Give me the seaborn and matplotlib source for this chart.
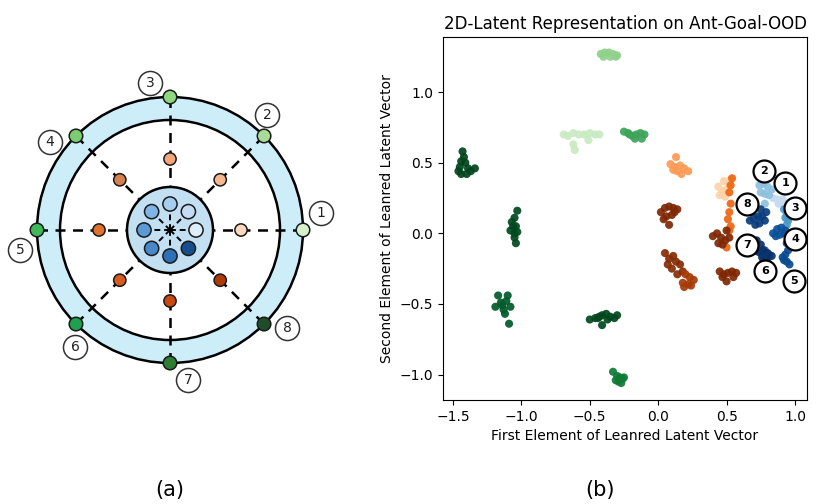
import numpy as np
import pandas as pd
import matplotlib
matplotlib.use("Agg")
import matplotlib.pyplot as plt
from matplotlib.patches import Circle
import seaborn as sns

plt.rcParams['font.family'] = ['DejaVu Sans']

# ---------------- Panel (b): latent clusters ----------------
TITLE = "2D-Latent Representation on Ant-Goal-OOD"
XLABEL = "First Element of Leanred Latent Vector"
YLABEL = "Second Element of Leanred Latent Vector"
XTICKS = [-1.5, -1.0, -0.5, 0.0, 0.5, 1.0]
YTICKS = [-1.0, -0.5, 0.0, 0.5, 1.0]

# green clusters (outer-ring goals)
g1_x = [-1.43, -1.42, -1.44, -1.41, -1.39, -1.37, -1.34, -1.46, -1.44, -1.40, -1.45]
g1_y = [0.58, 0.54, 0.51, 0.50, 0.46, 0.44, 0.46, 0.44, 0.42, 0.42, 0.47]
g2_x = [-1.03, -1.05, -1.07, -1.06, -1.04, -1.08, -1.05, -1.03, -1.05, -1.04]
g2_y = [0.16, 0.11, 0.08, 0.05, 0.05, 0.02, 0.00, 0.01, -0.03, -0.07]
g3_x = [-1.17, -1.10, -1.19, -1.14, -1.08, -1.12, -1.09, -1.13, -1.15, -1.11]
g3_y = [-0.44, -0.44, -0.52, -0.51, -0.52, -0.57, -0.64, -0.54, -0.49, -0.48]
g4_x = [-0.50, -0.46, -0.43, -0.41, -0.38, -0.35, -0.32, -0.30, -0.41, -0.37, -0.44]
g4_y = [-0.61, -0.60, -0.59, -0.58, -0.57, -0.59, -0.60, -0.58, -0.65, -0.61, -0.60]
g5_x = [-0.33, -0.30, -0.28, -0.26, -0.29, -0.31, -0.27, -0.25]
g5_y = [-0.98, -1.01, -1.02, -1.03, -1.05, -1.04, -1.06, -1.02]
g6_x = [-0.42, -0.39, -0.36, -0.33, -0.30, -0.40, -0.35, -0.31]
g6_y = [1.27, 1.28, 1.28, 1.27, 1.26, 1.25, 1.25, 1.25]
g7_x = [-0.69, -0.66, -0.62, -0.58, -0.54, -0.50, -0.46, -0.43, -0.62, -0.61, -0.51]
g7_y = [0.70, 0.69, 0.71, 0.70, 0.70, 0.71, 0.70, 0.70, 0.63, 0.59, 0.66]
g8_x = [-0.25, -0.22, -0.19, -0.16, -0.13, -0.10, -0.12, -0.17, -0.21]
g8_y = [0.72, 0.71, 0.69, 0.70, 0.71, 0.70, 0.67, 0.67, 0.70]

# orange clusters (middle-ring goals)
o1_x = [0.13, 0.09, 0.12, 0.16, 0.19, 0.22, 0.14, 0.17, 0.11]
o1_y = [0.54, 0.49, 0.47, 0.48, 0.46, 0.44, 0.44, 0.42, 0.45]
o2_x = [0.44, 0.47, 0.50, 0.45, 0.49, 0.52, 0.48, 0.53]
o2_y = [0.33, 0.30, 0.31, 0.27, 0.26, 0.35, 0.37, 0.38]
o3_x = [0.54, 0.53, 0.52, 0.53, 0.52, 0.51, 0.53, 0.52, 0.50]
o3_y = [0.39, 0.34, 0.29, 0.21, 0.15, 0.10, 0.05, 0.02, -0.10]
o4_x = [0.02, 0.05, 0.08, 0.11, 0.14, 0.06, 0.10, 0.04, 0.08, 0.12]
o4_y = [0.15, 0.18, 0.19, 0.18, 0.17, 0.12, 0.13, 0.10, 0.06, 0.15]
o5_x = [0.40, 0.43, 0.46, 0.49, 0.52, 0.44, 0.47, 0.50]
o5_y = [-0.02, 0.00, -0.03, -0.05, -0.03, -0.07, -0.08, 0.02]
o6_x = [0.05, 0.08, 0.11, 0.07, 0.13, 0.16, 0.10, 0.18, 0.14]
o6_y = [-0.14, -0.18, -0.16, -0.22, -0.20, -0.22, -0.25, -0.27, -0.29]
o7_x = [0.20, 0.23, 0.26, 0.18, 0.22, 0.19, 0.24]
o7_y = [-0.29, -0.31, -0.33, -0.35, -0.36, -0.38, -0.37]
o8_x = [0.45, 0.48, 0.51, 0.54, 0.57, 0.47, 0.50, 0.55]
o8_y = [-0.27, -0.29, -0.28, -0.27, -0.28, -0.31, -0.34, -0.31]

# blue clusters (inner goals), numbered 1..8
b1_x = [0.84, 0.87, 0.90, 0.93, 0.88, 0.91]
b1_y = [0.25, 0.24, 0.22, 0.21, 0.21, 0.24]
b2_x = [0.74, 0.77, 0.80, 0.83, 0.75, 0.78, 0.81, 0.78]
b2_y = [0.34, 0.35, 0.33, 0.31, 0.29, 0.28, 0.27, 0.21]
b3_x = [0.92, 0.94, 0.93, 0.95, 0.94, 0.96]
b3_y = [0.17, 0.14, 0.11, 0.09, 0.06, 0.12]
b4_x = [0.84, 0.87, 0.90, 0.93, 0.86, 0.89, 0.92]
b4_y = [0.00, 0.03, 0.04, 0.02, -0.02, -0.01, 0.00]
b5_x = [0.94, 0.95, 0.93, 0.91, 0.94, 0.96, 0.92]
b5_y = [-0.07, -0.12, -0.15, -0.17, -0.20, -0.22, -0.19]
b6_x = [0.75, 0.78, 0.81, 0.77, 0.80]
b6_y = [-0.14, -0.12, -0.15, -0.19, -0.18]
b7_x = [0.72, 0.75, 0.70, 0.73, 0.77, 0.80, 0.83, 0.76, 0.79]
b7_y = [-0.05, -0.08, -0.11, -0.13, -0.12, -0.14, -0.16, -0.17, -0.19]
b8_x = [0.67, 0.70, 0.73, 0.76, 0.79, 0.71, 0.74, 0.78, 0.75]
b8_y = [0.09, 0.11, 0.12, 0.12, 0.15, 0.06, 0.07, 0.09, 0.17]

clusters = {
    "g1": (g1_x, g1_y, "#00441b"), "g2": (g2_x, g2_y, "#00491f"),
    "g3": (g3_x, g3_y, "#005a2a"), "g4": (g4_x, g4_y, "#00471d"),
    "g5": (g5_x, g5_y, "#0f7a36"), "g6": (g6_x, g6_y, "#8fd18b"),
    "g7": (g7_x, g7_y, "#c8eac1"), "g8": (g8_x, g8_y, "#3ea45a"),
    "o1": (o1_x, o1_y, "#fd9a55"), "o2": (o2_x, o2_y, "#fdd2a7"),
    "o3": (o3_x, o3_y, "#ee6512"), "o4": (o4_x, o4_y, "#7f2704"),
    "o5": (o5_x, o5_y, "#7f2704"), "o6": (o6_x, o6_y, "#862b04"),
    "o7": (o7_x, o7_y, "#a63a07"), "o8": (o8_x, o8_y, "#7f2704"),
    "b1": (b1_x, b1_y, "#c6dbef"), "b2": (b2_x, b2_y, "#8dc0e0"),
    "b3": (b3_x, b3_y, "#4a98c9"), "b4": (b4_x, b4_y, "#0b4f98"),
    "b5": (b5_x, b5_y, "#0a4a90"), "b6": (b6_x, b6_y, "#1f68ad"),
    "b7": (b7_x, b7_y, "#08306b"), "b8": (b8_x, b8_y, "#083b7c"),
}

label_ids = ["1", "2", "3", "4", "5", "6", "7", "8"]
label_x = [0.93, 0.77, 1.00, 1.00, 0.99, 0.78, 0.65, 0.65]
label_y = [0.355, 0.44, 0.18, -0.04, -0.34, -0.27, -0.08, 0.21]

# ---------------- Panel (a): goal diagram ----------------
goal_ids = ["1", "2", "3", "4", "5", "6", "7", "8"]
goal_angles = [0, 45, 90, 135, 180, 225, 270, 315]
R_OUTER, R_BAND, R_MID, R_CORE, R_BLUE = 133, 110, 71, 43, 26
green_cols = ["#d6efcd", "#a8dc95", "#8fd681", "#7ccd6f", "#3fb85a", "#1ea04f", "#2f7d32", "#1f4d2a"]
orange_cols = ["#fcd9bf", "#f7b790", "#f4a67d", "#d98052", "#e0722f", "#d85c1d", "#c8490d", "#ae3a07"]
blue_cols = ["#ddeefa", "#c4dcf3", "#a5cdf0", "#7fb4e6", "#5c9ad6", "#4a88cc", "#2e6fb8", "#174f8e"]
diag_label_dx = [151, 97, -20, -120, -150, -95, 18, 117]
diag_label_dy = [17, 115, 147, 88, -20, -117, -150, -98]

# ---------------- figure ----------------
W, H = 838, 504
fig = plt.figure(figsize=(W / 100, H / 100), dpi=100)

# panel (b)
axb = fig.add_axes([443 / W, 1 - 400 / H, (807 - 443) / W, (400 - 37) / H])
rows = []
for name, (xs, ys, col) in clusters.items():
    for xv, yv in zip(xs, ys):
        rows.append((name, xv, yv))
df = pd.DataFrame(rows, columns=["cluster", "x", "y"])
pal = {k: v[2] for k, v in clusters.items()}
sns.scatterplot(data=df, x="x", y="y", hue="cluster", palette=pal, legend=False,
                s=34, linewidth=0, alpha=0.92, ax=axb)
axb.scatter(label_x, label_y, s=250, facecolor="white", edgecolor="black", linewidth=1.6, zorder=5)
for t, xv, yv in zip(label_ids, label_x, label_y):
    axb.text(xv, yv, t, ha="center", va="center", fontsize=8, fontweight="bold", zorder=6)
axb.set_xlim(-1.573, 1.088)
axb.set_ylim(-1.18, 1.39)
axb.set_xticks(XTICKS)
axb.set_yticks(YTICKS)
axb.set_xlabel(XLABEL, fontsize=10)
axb.set_ylabel(YLABEL, fontsize=10)
axb.set_title(TITLE, fontsize=12)

# panel (a)
axa = fig.add_axes([0, 1 - 400 / H, 340 / W, 340 / H])
axa.set_xlim(-170, 170)
axa.set_ylim(-170, 170)
axa.axis("off")
axa.add_patch(Circle((0, 0), R_OUTER, facecolor="#cdeef9", edgecolor="black", lw=1.8, zorder=1))
axa.add_patch(Circle((0, 0), R_BAND, facecolor="white", edgecolor="black", lw=1.8, zorder=1))
ang = np.deg2rad(goal_angles)
for a in ang:
    axa.plot([0, R_OUTER * np.cos(a)], [0, R_OUTER * np.sin(a)], color="black",
             lw=1.8, ls=(0, (4, 3)), zorder=2)
axa.add_patch(Circle((0, 0), R_CORE, facecolor="#c2e0f2", edgecolor="black", lw=1.8, zorder=3))
for a in ang:
    axa.plot([0, R_CORE * 0.55 * np.cos(a)], [0, R_CORE * 0.55 * np.sin(a)], color="black",
             lw=1.4, ls=(0, (3, 2)), zorder=3.5)

dots = pd.DataFrame({
    "x": list(R_OUTER * np.cos(ang)) + list(R_MID * np.cos(ang)) + list(R_BLUE * np.cos(ang)),
    "y": list(R_OUTER * np.sin(ang)) + list(R_MID * np.sin(ang)) + list(R_BLUE * np.sin(ang)),
    "key": [f"g{i}" for i in goal_ids] + [f"o{i}" for i in goal_ids] + [f"b{i}" for i in goal_ids],
})
dpal = {}
for i, gid in enumerate(goal_ids):
    dpal[f"g{gid}"] = green_cols[i]
    dpal[f"o{gid}"] = orange_cols[i]
    dpal[f"b{gid}"] = blue_cols[i]
for prefix, size in (("g", 95), ("o", 78), ("b", 105)):
    sub = dots[dots["key"].str.startswith(prefix)]
    sns.scatterplot(data=sub, x="x", y="y", hue="key", palette={k: dpal[k] for k in sub["key"]},
                    legend=False, s=size, edgecolor="#1a1a1a", linewidth=1.1, ax=axa, zorder=4)
axa.scatter(diag_label_dx, diag_label_dy, s=300, facecolor="white", edgecolor="#333333",
            linewidth=1.1, zorder=5)
for t, xv, yv in zip(goal_ids, diag_label_dx, diag_label_dy):
    axa.text(xv, yv, t, ha="center", va="center", fontsize=10, color="#222222", zorder=6)
axa.set_xlabel("")
axa.set_ylabel("")

fig.text(170 / W, 1 - 490 / H, "(a)", ha="center", va="center", fontsize=15)
fig.text(600 / W, 1 - 490 / H, "(b)", ha="center", va="center", fontsize=15)

fig.savefig("out.png", dpi=100)
